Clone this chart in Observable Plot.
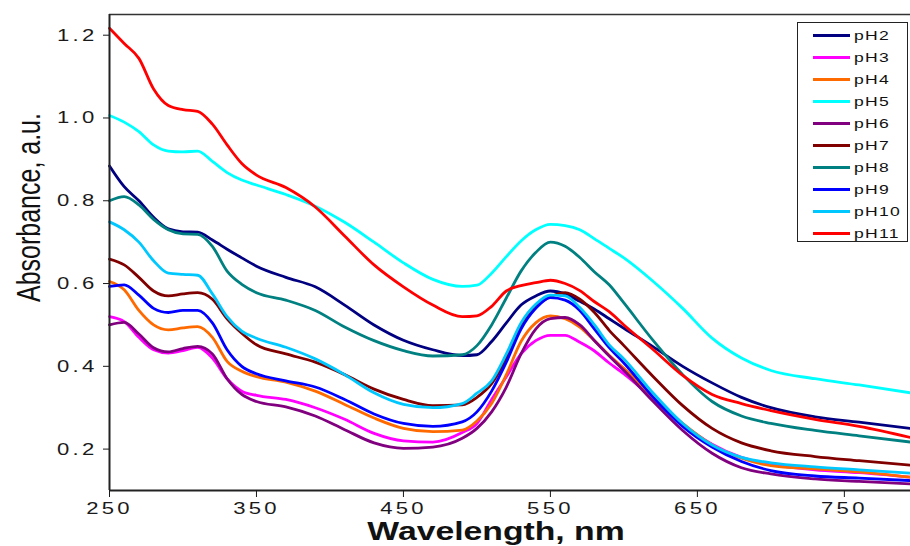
<!DOCTYPE html>
<html><head><meta charset="utf-8">
<script src="https://cdn.jsdelivr.net/npm/d3@7"></script>
<script src="https://cdn.jsdelivr.net/npm/@observablehq/plot@0.6"></script>
<style>
body{margin:0;background:#fff;}
#wrap{position:relative;width:910px;height:546px;overflow:hidden;}
g[aria-label="x-axis tick label"] text, g[aria-label="y-axis tick label"] text{letter-spacing:2.5px;fill:#1a1a1a;}
#legend{position:absolute;left:797px;top:22px;width:111px;height:220px;border:1.5px solid #222;background:#fff;box-sizing:border-box;padding-top:1px;}
#legend .row{display:flex;align-items:center;height:22px;}
#legend .sw{width:37px;height:0;border-top:3px solid;margin-left:15px;margin-right:4px;flex:none;}
#legend .lb{display:inline-block;transform:scaleX(1.3);transform-origin:left center;font-family:"Liberation Sans",Arial,sans-serif;font-size:13.5px;letter-spacing:1px;color:#111;}
</style></head><body><div id="wrap"></div>
<script>
const wavelengths = [250,260,270,280,290,300,310,320,330,340,350,370,390,410,430,450,470,490,500,510,520,530,540,550,560,570,580,590,600,620,640,660,680,700,730,760,795];
const pH2  = [0.884,0.834,0.800,0.760,0.732,0.725,0.724,0.705,0.683,0.662,0.642,0.615,0.592,0.548,0.500,0.463,0.440,0.426,0.428,0.460,0.505,0.548,0.570,0.582,0.575,0.557,0.538,0.515,0.492,0.447,0.400,0.360,0.325,0.300,0.278,0.265,0.250];
const pH3  = [0.520,0.508,0.470,0.440,0.432,0.438,0.446,0.420,0.370,0.340,0.330,0.320,0.300,0.272,0.238,0.220,0.217,0.240,0.262,0.320,0.375,0.430,0.462,0.475,0.475,0.458,0.437,0.408,0.382,0.322,0.260,0.212,0.180,0.163,0.150,0.143,0.132];
const pH4  = [0.605,0.585,0.535,0.500,0.488,0.493,0.496,0.470,0.412,0.388,0.375,0.362,0.340,0.308,0.275,0.250,0.242,0.246,0.268,0.310,0.380,0.460,0.505,0.522,0.515,0.495,0.462,0.427,0.395,0.325,0.262,0.210,0.178,0.160,0.152,0.145,0.132];
const pH5  = [1.006,0.990,0.967,0.935,0.920,0.918,0.920,0.895,0.868,0.850,0.838,0.815,0.787,0.748,0.700,0.650,0.610,0.593,0.596,0.625,0.665,0.703,0.730,0.743,0.740,0.730,0.708,0.685,0.662,0.605,0.540,0.468,0.420,0.390,0.370,0.355,0.336];
const pH6  = [0.500,0.506,0.478,0.445,0.435,0.443,0.448,0.430,0.370,0.332,0.315,0.302,0.280,0.247,0.215,0.202,0.205,0.226,0.250,0.290,0.350,0.430,0.490,0.515,0.518,0.500,0.462,0.425,0.390,0.315,0.245,0.190,0.155,0.140,0.128,0.122,0.116];
const pH7  = [0.659,0.645,0.615,0.582,0.570,0.575,0.578,0.562,0.515,0.480,0.452,0.430,0.410,0.380,0.345,0.320,0.305,0.307,0.325,0.358,0.420,0.500,0.545,0.568,0.578,0.562,0.530,0.487,0.450,0.375,0.305,0.250,0.215,0.196,0.182,0.172,0.161];
const pH8  = [0.800,0.810,0.790,0.755,0.730,0.720,0.719,0.690,0.630,0.598,0.578,0.560,0.535,0.495,0.462,0.438,0.425,0.428,0.450,0.500,0.565,0.630,0.675,0.700,0.690,0.663,0.628,0.597,0.553,0.462,0.380,0.315,0.280,0.262,0.245,0.232,0.217];
const pH9  = [0.593,0.597,0.572,0.540,0.530,0.535,0.535,0.505,0.440,0.400,0.382,0.365,0.350,0.320,0.285,0.262,0.255,0.266,0.290,0.340,0.410,0.490,0.540,0.566,0.560,0.535,0.490,0.445,0.408,0.325,0.255,0.205,0.170,0.148,0.135,0.130,0.124];
const pH10 = [0.749,0.730,0.700,0.655,0.625,0.622,0.620,0.575,0.520,0.485,0.468,0.446,0.418,0.380,0.336,0.308,0.300,0.310,0.335,0.365,0.430,0.505,0.550,0.572,0.570,0.542,0.500,0.452,0.418,0.335,0.262,0.210,0.180,0.167,0.157,0.150,0.142];
const pH11 = [1.217,1.180,1.144,1.070,1.030,1.020,1.016,0.985,0.935,0.890,0.862,0.832,0.785,0.715,0.645,0.592,0.548,0.520,0.522,0.545,0.582,0.595,0.602,0.608,0.600,0.583,0.556,0.532,0.500,0.440,0.378,0.332,0.310,0.293,0.272,0.255,0.228];

const seriesNames  = ["pH2","pH3","pH4","pH5","pH6","pH7","pH8","pH9","pH10","pH11"];
const seriesColors = ["#000080","#ff00ff","#ff6a00","#00ffff","#800080","#800000","#008080","#0000ff","#00c8ff","#ff0000"];
const seriesValues = [pH2,pH3,pH4,pH5,pH6,pH7,pH8,pH9,pH10,pH11];
const xTicks = [250,350,450,550,650,750];
const yTicks = [0.2,0.4,0.6,0.8,1.0,1.2];
const xLabel = "Wavelength, nm";
const yLabel = "Absorbance, a.u.";

const data = seriesNames.flatMap((name,i)=>wavelengths.map((w,j)=>({series:name, wavelength:w, absorbance:seriesValues[i][j]})));

const chart = Plot.plot({
  width:910, height:546,
  marginLeft:109, marginRight:0, marginTop:14, marginBottom:56,
  style:{fontFamily:"'Liberation Sans', Arial, sans-serif", fontSize:"17px", background:"#fff", color:"#1a1a1a"},
  x:{domain:[250,795]},
  y:{domain:[0.1,1.25]},
  color:{domain:seriesNames, range:seriesColors},
  marks:[
    Plot.ruleY([1.25],{stroke:"#333", strokeWidth:1.5}),
    Plot.lineY(data,{x:"wavelength", y:"absorbance", z:"series", stroke:"series", strokeWidth:2.8, curve:"monotone-x"}),
    Plot.ruleX([250],{stroke:"#222", strokeWidth:2}),
    Plot.ruleY([0.1],{stroke:"#222", strokeWidth:2}),
    Plot.axisX({ticks:xTicks, tickSize:7, tickPadding:4, tickFormat:d=>String(d), label:null}),
    Plot.axisY({ticks:yTicks, tickSize:6, tickPadding:6, tickFormat:d3.format(".1f"), label:null}),
    Plot.text([xLabel],{text:d=>d, frameAnchor:"bottom", dy:49, dx:-14, fontSize:25, fontWeight:"bold", fill:"#111"}),
    Plot.text([yLabel],{text:d=>d, frameAnchor:"left", textAnchor:"middle", rotate:-90, dx:-70, dy:-45, lineAnchor:"bottom", fontSize:25, fill:"#111"})
  ]
});
// horizontal stretch of the texts, as in the reference
d3.select(chart).selectAll("text").each(function(){
  const t = this.getAttribute("transform") || "";
  const s = this.textContent;
  if (s === xLabel) this.setAttribute("transform", t + " scale(1.35,1)");
  else if (s === yLabel) this.setAttribute("transform", t + " scale(1,1.35)");
});
d3.select(chart).selectAll('g[aria-label="x-axis tick label"] text, g[aria-label="y-axis tick label"] text').each(function(){
  const t = this.getAttribute("transform") || "";
  this.setAttribute("transform", t + " scale(1.3,1)");
});
const wrap = document.getElementById("wrap");
wrap.appendChild(chart);

const legend = document.createElement("div");
legend.id = "legend";
seriesNames.forEach((name,i)=>{
  const row = document.createElement("div"); row.className="row";
  const sw = document.createElement("div"); sw.className="sw"; sw.style.borderTopColor = seriesColors[i];
  const lb = document.createElement("span"); lb.className="lb"; lb.textContent = name;
  row.appendChild(sw); row.appendChild(lb); legend.appendChild(row);
});
wrap.appendChild(legend);
</script></body></html>
